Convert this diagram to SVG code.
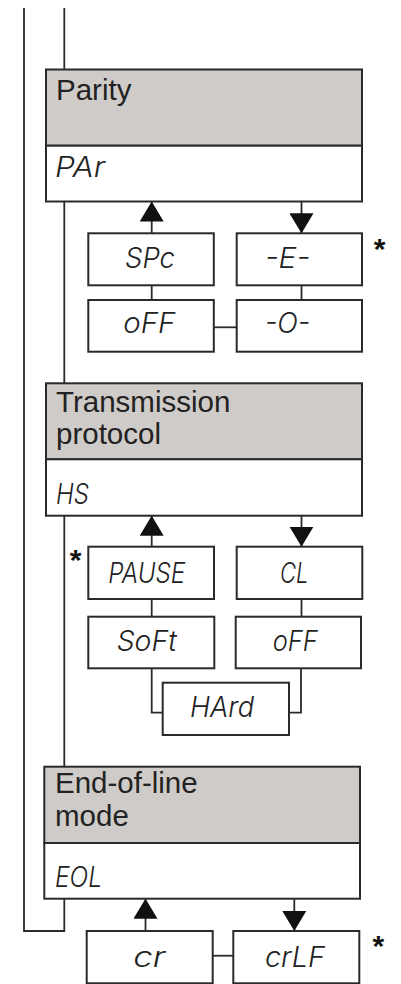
<svg xmlns="http://www.w3.org/2000/svg" width="401" height="984" viewBox="0 0 401 984">
<style>
.bg{fill:#ffffff}
.hdr{fill:#cfcbc8;stroke:#2a2a2a;stroke-width:2}
.val{fill:#ffffff;stroke:#2a2a2a;stroke-width:2}
.opt{fill:#ffffff;stroke:#2a2a2a;stroke-width:2}
.ln{fill:none;stroke:#2a2a2a;stroke-width:1.8}
.arr{fill:none;stroke:#2a2a2a;stroke-width:1.8;marker-end:url(#tri)}
.title{font-family:"Liberation Sans",Arial,sans-serif;font-size:29.5px;fill:#222222}
.seg{font-family:Inter,"Open Sans","DejaVu Sans",sans-serif;font-weight:300;font-style:oblique;font-size:28px;fill:#222222}
.star{font-family:"Liberation Sans",Arial,sans-serif;font-weight:bold;font-size:30px;fill:#111111;text-anchor:middle}
</style>
<defs>
<marker id="tri" markerUnits="userSpaceOnUse" viewBox="0 0 20 24" refX="20" refY="12" markerWidth="20" markerHeight="24" orient="auto">
<path d="M0,0 L20,12 L0,24 Z" fill="#111111"/>
</marker>
</defs>
<rect class="bg" x="0" y="0" width="401" height="984"/>
<g id="connectors">
<path class="ln" d="M64.3,8 V931 H24 V8"/>
<line class="arr" x1="151.7" y1="233.3" x2="151.7" y2="201.5"/>
<line class="arr" x1="301.5" y1="201.5" x2="301.5" y2="233.3"/>
<line class="ln" x1="151.7" y1="285.3" x2="151.7" y2="300"/>
<line class="ln" x1="301.5" y1="285.3" x2="301.5" y2="300"/>
<line class="ln" x1="213.8" y1="327.3" x2="236.7" y2="327.3"/>
<line class="arr" x1="151.7" y1="546.7" x2="151.7" y2="515.7"/>
<line class="arr" x1="301.5" y1="515.7" x2="301.5" y2="546.7"/>
<line class="ln" x1="151.7" y1="599" x2="151.7" y2="616.7"/>
<line class="ln" x1="301.5" y1="599" x2="301.5" y2="616.7"/>
<path class="ln" d="M151.7,668.3 V712.7 H162.7"/>
<path class="ln" d="M301,668.3 V712.7 H289"/>
<line class="arr" x1="145.5" y1="931" x2="145.5" y2="898.7"/>
<line class="arr" x1="294.3" y1="898.7" x2="294.3" y2="931"/>
<line class="ln" x1="212.7" y1="955.7" x2="233.3" y2="955.7"/>
</g>
<g id="parity">
<rect class="hdr" x="46" y="69.5" width="316" height="76.2"/>
<rect class="val" x="46" y="145.7" width="316" height="55.8"/>
<text class="title" x="56" y="99.5">Parity</text>
<text class="seg" x="55" y="177.3" textLength="50" lengthAdjust="spacingAndGlyphs">PAr</text>
</g>
<g id="par-spc">
<rect class="opt" x="88.3" y="233.3" width="125.5" height="52"/>
<text class="seg" x="125" y="268.3" textLength="50" lengthAdjust="spacingAndGlyphs">SPc</text>
</g>
<g id="par-even">
<rect class="opt" x="236.7" y="233.3" width="125.3" height="52"/>
<text class="seg" x="265" y="268.3" textLength="45" lengthAdjust="spacingAndGlyphs">-E-</text>
<text class="star" x="379.7" y="259">*</text>
</g>
<g id="par-off">
<rect class="opt" x="88.3" y="300" width="125.5" height="51.7"/>
<text class="seg" x="123.3" y="333.3" textLength="52" lengthAdjust="spacingAndGlyphs">oFF</text>
</g>
<g id="par-odd">
<rect class="opt" x="236.7" y="300" width="125.3" height="51.7"/>
<text class="seg" x="265" y="333.3" textLength="45" lengthAdjust="spacingAndGlyphs">-O-</text>
</g>
<g id="protocol">
<rect class="hdr" x="46" y="383.3" width="316" height="76"/>
<rect class="val" x="46" y="459.3" width="316" height="56.4"/>
<text class="title" x="56" y="412">Transmission</text>
<text class="title" x="56" y="443.5">protocol</text>
<text class="seg" x="56" y="504" textLength="33" lengthAdjust="spacingAndGlyphs">HS</text>
</g>
<g id="hs-pause">
<rect class="opt" x="88.3" y="546.7" width="125.7" height="52.3"/>
<text class="seg" x="108.3" y="583.3" textLength="77" lengthAdjust="spacingAndGlyphs">PAUSE</text>
<text class="star" x="75.5" y="570">*</text>
</g>
<g id="hs-cl">
<rect class="opt" x="236.7" y="546.7" width="125.6" height="52.3"/>
<text class="seg" x="280" y="583.3" textLength="28.5" lengthAdjust="spacingAndGlyphs">CL</text>
</g>
<g id="hs-soft">
<rect class="opt" x="88.3" y="616.7" width="126" height="51.6"/>
<text class="seg" x="116.7" y="651" textLength="60" lengthAdjust="spacingAndGlyphs">SoFt</text>
</g>
<g id="hs-off">
<rect class="opt" x="235.7" y="616.7" width="125.3" height="51.6"/>
<text class="seg" x="272.7" y="651" textLength="45" lengthAdjust="spacingAndGlyphs">oFF</text>
</g>
<g id="hs-hard">
<rect class="opt" x="162.7" y="682.7" width="126.3" height="52.3"/>
<text class="seg" x="190" y="716.7" textLength="64" lengthAdjust="spacingAndGlyphs">HArd</text>
</g>
<g id="eol">
<rect class="hdr" x="44.3" y="766.7" width="315.7" height="76.3"/>
<rect class="val" x="44.3" y="843" width="315.7" height="55.7"/>
<text class="title" x="55" y="793.3">End-of-line</text>
<text class="title" x="55" y="825.5">mode</text>
<text class="seg" x="55" y="886.7" textLength="47" lengthAdjust="spacingAndGlyphs">EOL</text>
</g>
<g id="eol-cr">
<rect class="opt" x="86.7" y="931" width="126" height="52.3"/>
<text class="seg" x="133.3" y="966.7" textLength="32" lengthAdjust="spacingAndGlyphs">cr</text>
</g>
<g id="eol-crlf">
<rect class="opt" x="233.3" y="931" width="126" height="52.3"/>
<text class="seg" x="265" y="966.7" textLength="60" lengthAdjust="spacingAndGlyphs">crLF</text>
<text class="star" x="378.3" y="955.5">*</text>
</g>
</svg>
